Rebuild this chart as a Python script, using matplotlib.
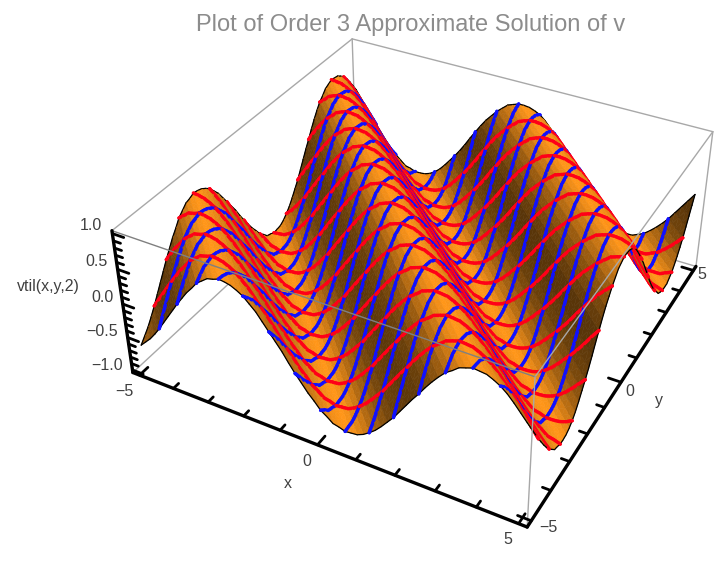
# -*- coding: utf-8 -*-
import numpy as np
import matplotlib
matplotlib.use("Agg")
import matplotlib.pyplot as plt
from mpl_toolkits.mplot3d.art3d import Poly3DCollection, Line3DCollection

plt.rcParams['font.family'] = ['Liberation Sans', 'DejaVu Sans']

W, H = 717, 562

# surface height read along the x+y diagonal, from x+y=-10 to x+y=10 in 128 steps
wave_height = [-.65, -.57, -.49, -.39, -.28, -.16, -.04, .08, .20, .31, .42, .51, .61,
               .67, .73, .75, .78, .77, .75, .71, .66, .58, .50, .39, .28, .17, .06,
               -.07, -.19, -.30, -.41, -.50, -.60, -.66, -.73, -.75, -.78, -.77, -.76,
               -.72, -.66, -.59, -.50, -.40, -.30, -.18, -.06, .06, .17, .29, .40, .50,
               .59, .65, .72, .75, .78, .77, .76, .72, .67, .60, .51, .41, .31, .19,
               .07, -.05, -.17, -.28, -.39, -.49, -.58, -.65, -.72, -.74, -.77, -.77,
               -.76, -.73, -.68, -.61, -.52, -.42, -.32, -.21, -.09, .04, .16, .28, .39,
               .48, .57, .64, .71, .74, .77, .77, .76, .73, .69, .62, .53, .43, .33,
               .22, .10, -.02, -.14, -.26, -.37, -.47, -.56, -.63, -.71, -.74, -.77,
               -.77, -.77, -.73, -.69, -.62, -.54, -.45, -.35, -.23, -.11, .01, .13]
x_range = [-5, 5]
y_range = [-5, 5]
z_range = [-1, 1]
x_labels = ["\u22125", "0", "5"]
y_labels = ["\u22125", "0", "5"]
z_labels = ["1.0", "0.5", "0.0", "\u22120.5", "\u22121.0"]
title = "Plot of Order 3 Approximate Solution of v"

# the box is a little larger than the data; its corners and where the reference
# shows them set up the camera
x0, x1 = -5.2, 5.2
y0, y1 = -5.2, 5.2
z0, z1 = -1.04, 1.04
box_xyz = [(x0, y0, z1), (x0, y1, z1), (x1, y1, z1), (x1, y0, z1),
           (x0, y0, z0), (x1, y0, z0), (x1, y1, z0)]
box_px = [(112, 230), (352, 39), (713, 132), (535, 377), (133, 373), (527, 527), (696, 266)]

N = (len(wave_height) + 1) // 2
xs = np.linspace(x_range[0], x_range[1], N)
ys = np.linspace(y_range[0], y_range[1], N)
wave = np.array(wave_height)
zs = np.array([[wave[i + j] for j in range(N)] for i in range(N)])

DARK = np.array([80, 48, 8]) / 255
ORANGE = np.array([255, 150, 25]) / 255
slope = np.convolve(np.pad(np.diff(wave), 2, mode="edge"), np.ones(5) / 5, mode="valid")
slope = slope / np.abs(slope).max()


def band_color(k):
    # k is the step along the diagonal
    s = slope[k]
    t = 1 - 0.95 * max(s, 0) ** 1.5 - 0.45 * max(-s, 0) ** 1.5
    return DARK + t * (ORANGE - DARK)


def px(x, y):
    return x / W, 1 - y / H


def fit_camera(ax):
    # the reference view is off centre, so solve the projection from the box corners
    view = ax.transData.inverted().transform([(u, H - v) for u, v in box_px])
    k = 1 / np.abs(view).max()
    rows = []
    for (x, y, z), (u, v) in zip(box_xyz, view * k):
        p = [x / 5, y / 5, z, 1]
        rows.append(p + [0, 0, 0, 0] + [-u * q for q in p])
        rows.append([0, 0, 0, 0] + p + [-v * q for q in p])
    P = np.linalg.svd(np.array(rows))[2][-1].reshape(3, 4)
    P[:, :2] /= 5
    if P[2, 3] < 0:
        P = -P
    # mplot3d drops line points with a positive depth, so keep the depth row negative
    depth = np.linalg.svd(P)[2][-1]
    pts = np.array([list(c) + [1] for c in box_xyz])
    d = (pts @ depth) / (pts @ P[2])
    return np.array([P[0] / k, P[1] / k, depth * 0.5 / np.abs(d).max() - P[2], P[2]])


fig = plt.figure(figsize=(W / 100, H / 100), dpi=100)
S = 800
cx, cy = 410, 262
ax = fig.add_axes([(cx - S / 2) / W, (H - cy - S / 2) / H, S / W, S / H],
                  projection="3d", computed_zorder=False)
ax.patch.set_alpha(0)
ax.set_xlim(x0, x1)
ax.set_ylim(y0, y1)
ax.set_zlim(z0, z1)
ax.set_axis_off()
camera = fit_camera(ax)
ax.get_proj = lambda: camera

GRAY = "#a8a8a8"


def edge(a, b, color=GRAY, lw=1.0, zorder=1):
    ax.plot([a[0], b[0]], [a[1], b[1]], [a[2], b[2]], color=color, lw=lw,
            zorder=zorder, solid_capstyle="round")


# back part of the box
edge((x0, y0, z1), (x0, y1, z1))
edge((x0, y1, z1), (x1, y1, z1))
edge((x1, y1, z1), (x1, y1, z0))
edge((x0, y1, z1), (x0, y1, z0))
edge((x0, y0, z0), (x0, y1, z0))
edge((x0, y1, z0), (x1, y1, z0))
edge((x1, y1, z1), (x1, y0, z1), zorder=50000)
edge((x0, y0, z1), (x1, y0, z1), color="#808080", zorder=50000)
edge((x1, y0, z1), (x1, y0, z0), zorder=50000)

# surface, back cells first so ridges hide what is behind them
order = 10
for i in range(N - 1):
    for j in range(N - 2, -1, -1):
        quad = [(xs[i], ys[j], zs[i, j]), (xs[i + 1], ys[j], zs[i + 1, j]),
                (xs[i + 1], ys[j + 1], zs[i + 1, j + 1]), (xs[i], ys[j + 1], zs[i, j + 1])]
        c1, c2 = band_color(i + j), band_color(i + j + 1)
        tri = Poly3DCollection([[quad[0], quad[1], quad[3]], [quad[1], quad[2], quad[3]]],
                               facecolors=[c1, c2], edgecolors=[c1, c2], linewidths=0.4)
        tri.set_zorder(order)
        ax.add_collection3d(tri)
        order += 1

        segs, cols, wid = [], [], []
        # black outline of the surface
        if i == 0:
            segs.append([quad[3], quad[0]])
        if i == N - 2:
            segs.append([quad[1], quad[2]])
        if j == 0:
            segs.append([quad[0], quad[1]])
        if j == N - 2:
            segs.append([quad[2], quad[3]])
        cols += ["black"] * len(segs)
        wid += [0.9] * len(segs)
        # blue lines follow y, red lines follow x, on every fourth grid line
        for k, a, b in [(i, 3, 0), (i + 1, 1, 2)]:
            if k % 4 == 0 and 0 < k < N - 1:
                segs.append([quad[a], quad[b]])
                cols.append("#1010ff")
                wid.append(2.4)
        for k, a, b in [(j, 0, 1), (j + 1, 2, 3)]:
            if k % 4 == 0 and 0 < k < N - 1:
                segs.append([quad[a], quad[b]])
                cols.append("#ff0018")
                wid.append(2.4)
        if segs:
            lines = Line3DCollection(segs, colors=cols, linewidths=wid, capstyle="round")
            lines.set_zorder(order)
            ax.add_collection3d(lines)
            order += 1

# black axes with their ticks
edge((x0, y0, z0), (x1, y0, z0), color="black", lw=2.4, zorder=60000)
edge((x1, y0, z0), (x1, y1, z0), color="black", lw=2.4, zorder=60000)
edge((x0, y0, z0), (x0, y0, z1), color="black", lw=2.4, zorder=60000)
for v in np.arange(-5, 6):
    L = 0.32 if v % 5 == 0 else 0.2
    edge((v, y0, z0), (v, y0 + L, z0), color="black", lw=2.0, zorder=60000)
    edge((x1, v, z0), (x1 - L, v, z0), color="black", lw=2.0, zorder=60000)
for v in np.arange(-10, 11):
    L = 0.32 if v % 5 == 0 else 0.2
    edge((x0, y0, v / 10), (x0 + L, y0, v / 10), color="black", lw=2.0, zorder=60000)

# labels, placed where the reference has them
TXT = "#404040"
FS = 11.5
for lab, pos in zip(z_labels, [(91, 225), (97, 262), (103, 297), (102, 332), (107, 366)]):
    fig.text(*px(*pos), lab, ha="center", va="center", fontsize=FS, color=TXT)
for lab, pos in zip(x_labels, [(124, 391), (307, 461), (508, 540)]):
    fig.text(*px(*pos), lab, ha="center", va="center", fontsize=FS, color=TXT)
for lab, pos in zip(y_labels, [(548, 527), (630, 392), (702, 275)]):
    fig.text(*px(*pos), lab, ha="center", va="center", fontsize=FS, color=TXT)
fig.text(*px(288, 484), "x", ha="center", va="center", fontsize=FS, color=TXT)
fig.text(*px(659, 400), "y", ha="center", va="center", fontsize=FS, color=TXT)
fig.text(*px(48, 286), "vtil(x,y,2)", ha="center", va="center", fontsize=FS, color=TXT)
fig.text(*px(411, 25), title, ha="center", va="center", fontsize=17, color="#8c8c8c")

fig.savefig("out.png", dpi=100)
